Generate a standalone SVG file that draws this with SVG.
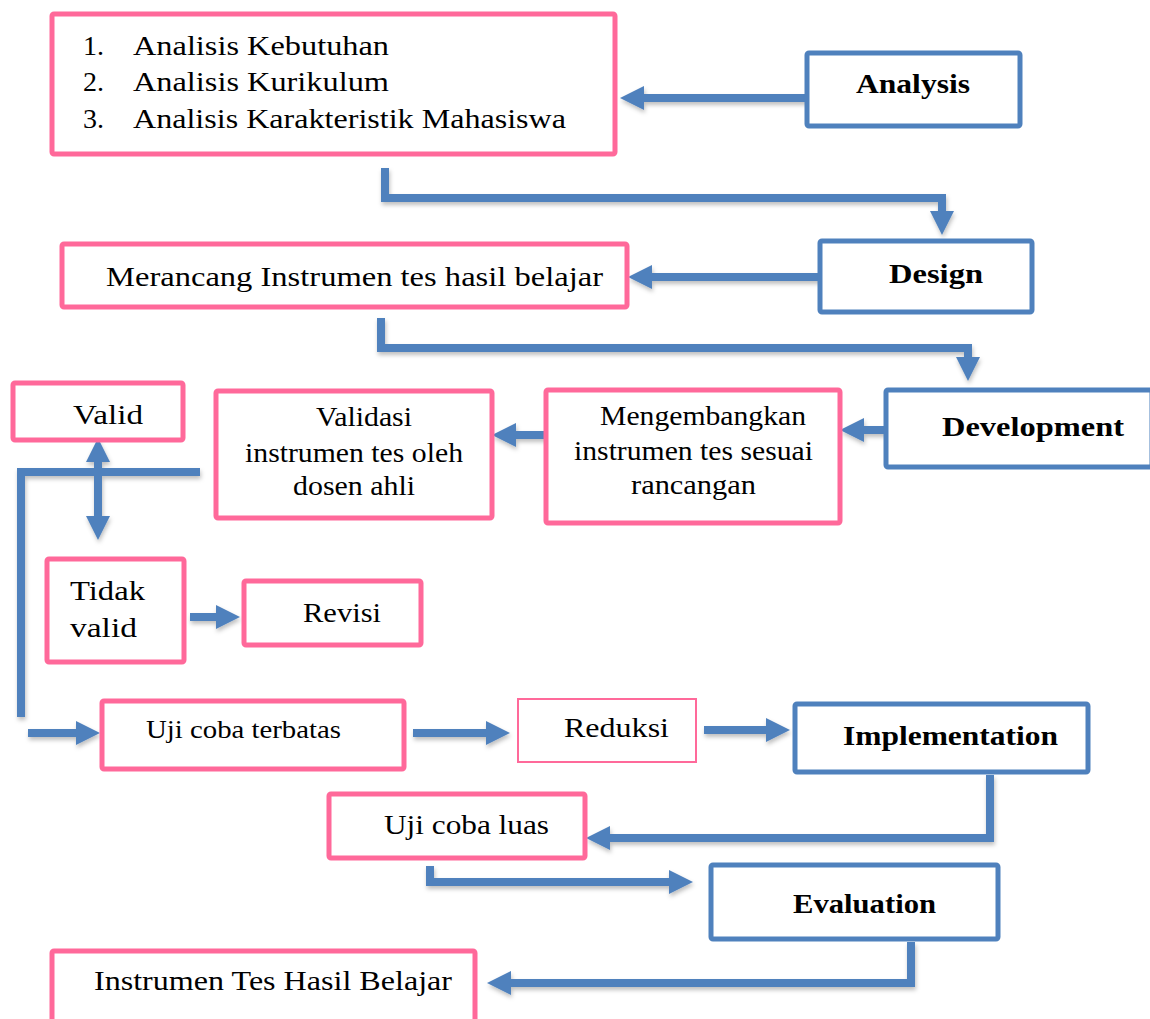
<svg xmlns="http://www.w3.org/2000/svg" width="1150" height="1019" viewBox="0 0 1150 1019">
<style>
.pk{fill:#fff;stroke:#FF699A;stroke-width:5}
.bl{fill:#fff;stroke:#4F81BD;stroke-width:5}
.t{font-family:"Liberation Serif","Times New Roman",serif;font-size:28px;fill:#000}
.b{font-family:"Liberation Serif","Times New Roman",serif;font-size:28px;font-weight:bold;fill:#000}
.c{fill:none;stroke:#4F81BD;stroke-width:8;stroke-linejoin:miter}
</style>
<defs>
<filter id="sh" x="-5%" y="-20%" width="110%" height="160%">
<feDropShadow dx="1" dy="3" stdDeviation="2" flood-color="#000" flood-opacity="0.25"/>
</filter>
<marker id="ah" viewBox="0 0 24 24" refX="12" refY="12" markerWidth="24" markerHeight="24" markerUnits="userSpaceOnUse" orient="auto-start-reverse">
<path d="M0,0 L24,12 L0,24 Z" fill="#4F81BD"/>
</marker>
</defs>

<g id="connectors" filter="url(#sh)">
<line class="c" x1="815" y1="98" x2="632" y2="98" marker-end="url(#ah)"/>
<polyline class="c" points="385,168 385,198 942,198 942,223" marker-end="url(#ah)"/>
<line class="c" x1="822" y1="277" x2="640" y2="277" marker-end="url(#ah)"/>
<polyline class="c" points="381,318 381,348 968,348 968,369" marker-end="url(#ah)"/>
<line class="c" x1="888" y1="430" x2="852" y2="430" marker-end="url(#ah)"/>
<line class="c" x1="548" y1="435" x2="504" y2="435" marker-end="url(#ah)"/>
<line class="c" x1="98" y1="450" x2="98" y2="528" marker-start="url(#ah)" marker-end="url(#ah)"/>
<polyline class="c" points="200,472 21,472 21,717"/>
<line class="c" x1="28" y1="733" x2="88" y2="733" marker-end="url(#ah)"/>
<line class="c" x1="190" y1="617" x2="228" y2="617" marker-end="url(#ah)"/>
<line class="c" x1="413" y1="733" x2="498" y2="733" marker-end="url(#ah)"/>
<line class="c" x1="704" y1="730" x2="778" y2="730" marker-end="url(#ah)"/>
<polyline class="c" points="990,775 990,838 598,838" marker-end="url(#ah)"/>
<polyline class="c" points="430,866 430,882 681,882" marker-end="url(#ah)"/>
<polyline class="c" points="911,942 911,983 499,983" marker-end="url(#ah)"/>
</g>

<g id="analisis-list">
<rect class="pk" x="52" y="14" width="563" height="140" rx="2"/>
<text class="t" x="83" y="55">1.</text>
<text class="t" x="133" y="55" textLength="256" lengthAdjust="spacingAndGlyphs">Analisis Kebutuhan</text>
<text class="t" x="83" y="91">2.</text>
<text class="t" x="133" y="91" textLength="256" lengthAdjust="spacingAndGlyphs">Analisis Kurikulum</text>
<text class="t" x="83" y="128">3.</text>
<text class="t" x="133" y="128" textLength="433" lengthAdjust="spacingAndGlyphs">Analisis Karakteristik Mahasiswa</text>
</g>

<g id="analysis">
<rect class="bl" x="807" y="53" width="213" height="73" rx="2"/>
<text class="b" x="856" y="93" textLength="114" lengthAdjust="spacingAndGlyphs">Analysis</text>
</g>

<g id="merancang">
<rect class="pk" x="62" y="244" width="565" height="63" rx="2"/>
<text class="t" x="106" y="286" textLength="497" lengthAdjust="spacingAndGlyphs">Merancang Instrumen tes hasil belajar</text>
</g>

<g id="design">
<rect class="bl" x="820" y="241" width="212" height="71" rx="2"/>
<text class="b" x="889" y="283" textLength="94" lengthAdjust="spacingAndGlyphs">Design</text>
</g>

<g id="development">
<rect class="bl" x="886" y="390" width="266" height="77" rx="2"/>
<text class="b" x="942" y="436" textLength="182" lengthAdjust="spacingAndGlyphs">Development</text>
</g>

<g id="mengembangkan">
<rect class="pk" x="546" y="390" width="294" height="133" rx="2"/>
<text class="t" x="600" y="425" textLength="206" lengthAdjust="spacingAndGlyphs">Mengembangkan</text>
<text class="t" x="574" y="460" textLength="239" lengthAdjust="spacingAndGlyphs">instrumen tes sesuai</text>
<text class="t" x="631" y="494" textLength="125" lengthAdjust="spacingAndGlyphs">rancangan</text>
</g>

<g id="validasi">
<rect class="pk" x="216" y="391" width="276" height="127" rx="2"/>
<text class="t" x="316" y="426" textLength="96" lengthAdjust="spacingAndGlyphs">Validasi</text>
<text class="t" x="245" y="462" textLength="218" lengthAdjust="spacingAndGlyphs">instrumen tes oleh</text>
<text class="t" x="293" y="495" textLength="122" lengthAdjust="spacingAndGlyphs">dosen ahli</text>
</g>

<g id="valid">
<rect class="pk" x="13" y="383" width="170" height="57" rx="2"/>
<text class="t" x="73" y="424" textLength="70" lengthAdjust="spacingAndGlyphs">Valid</text>
</g>

<g id="tidak-valid">
<rect class="pk" x="47" y="559" width="137" height="103" rx="2"/>
<text class="t" x="70" y="600" textLength="75" lengthAdjust="spacingAndGlyphs">Tidak</text>
<text class="t" x="70" y="637" textLength="67" lengthAdjust="spacingAndGlyphs">valid</text>
</g>

<g id="revisi">
<rect class="pk" x="244" y="581" width="177" height="64" rx="2"/>
<text class="t" x="303" y="622" textLength="78" lengthAdjust="spacingAndGlyphs">Revisi</text>
</g>

<g id="uji-coba-terbatas">
<rect class="pk" x="102" y="701" width="302" height="68" rx="2"/>
<text class="t" x="146" y="738" style="font-size:25px" textLength="195" lengthAdjust="spacingAndGlyphs">Uji coba terbatas</text>
</g>

<g id="reduksi">
<rect class="pk" x="518" y="699" width="178" height="63" style="stroke-width:2"/>
<text class="t" x="564" y="737" textLength="105" lengthAdjust="spacingAndGlyphs">Reduksi</text>
</g>

<g id="implementation">
<rect class="bl" x="795" y="704" width="293" height="68" rx="2"/>
<text class="b" x="843" y="745" textLength="215" lengthAdjust="spacingAndGlyphs">Implementation</text>
</g>

<g id="uji-coba-luas">
<rect class="pk" x="329" y="794" width="256" height="64" rx="2"/>
<text class="t" x="384" y="834" textLength="165" lengthAdjust="spacingAndGlyphs">Uji coba luas</text>
</g>

<g id="evaluation">
<rect class="bl" x="711" y="865" width="287" height="74" rx="2"/>
<text class="b" x="793" y="913" textLength="143" lengthAdjust="spacingAndGlyphs">Evaluation</text>
</g>

<g id="instrumen-tes">
<rect class="pk" x="52" y="951" width="423" height="80" rx="2"/>
<text class="t" x="94" y="990" textLength="358" lengthAdjust="spacingAndGlyphs">Instrumen Tes Hasil Belajar</text>
</g>
</svg>
